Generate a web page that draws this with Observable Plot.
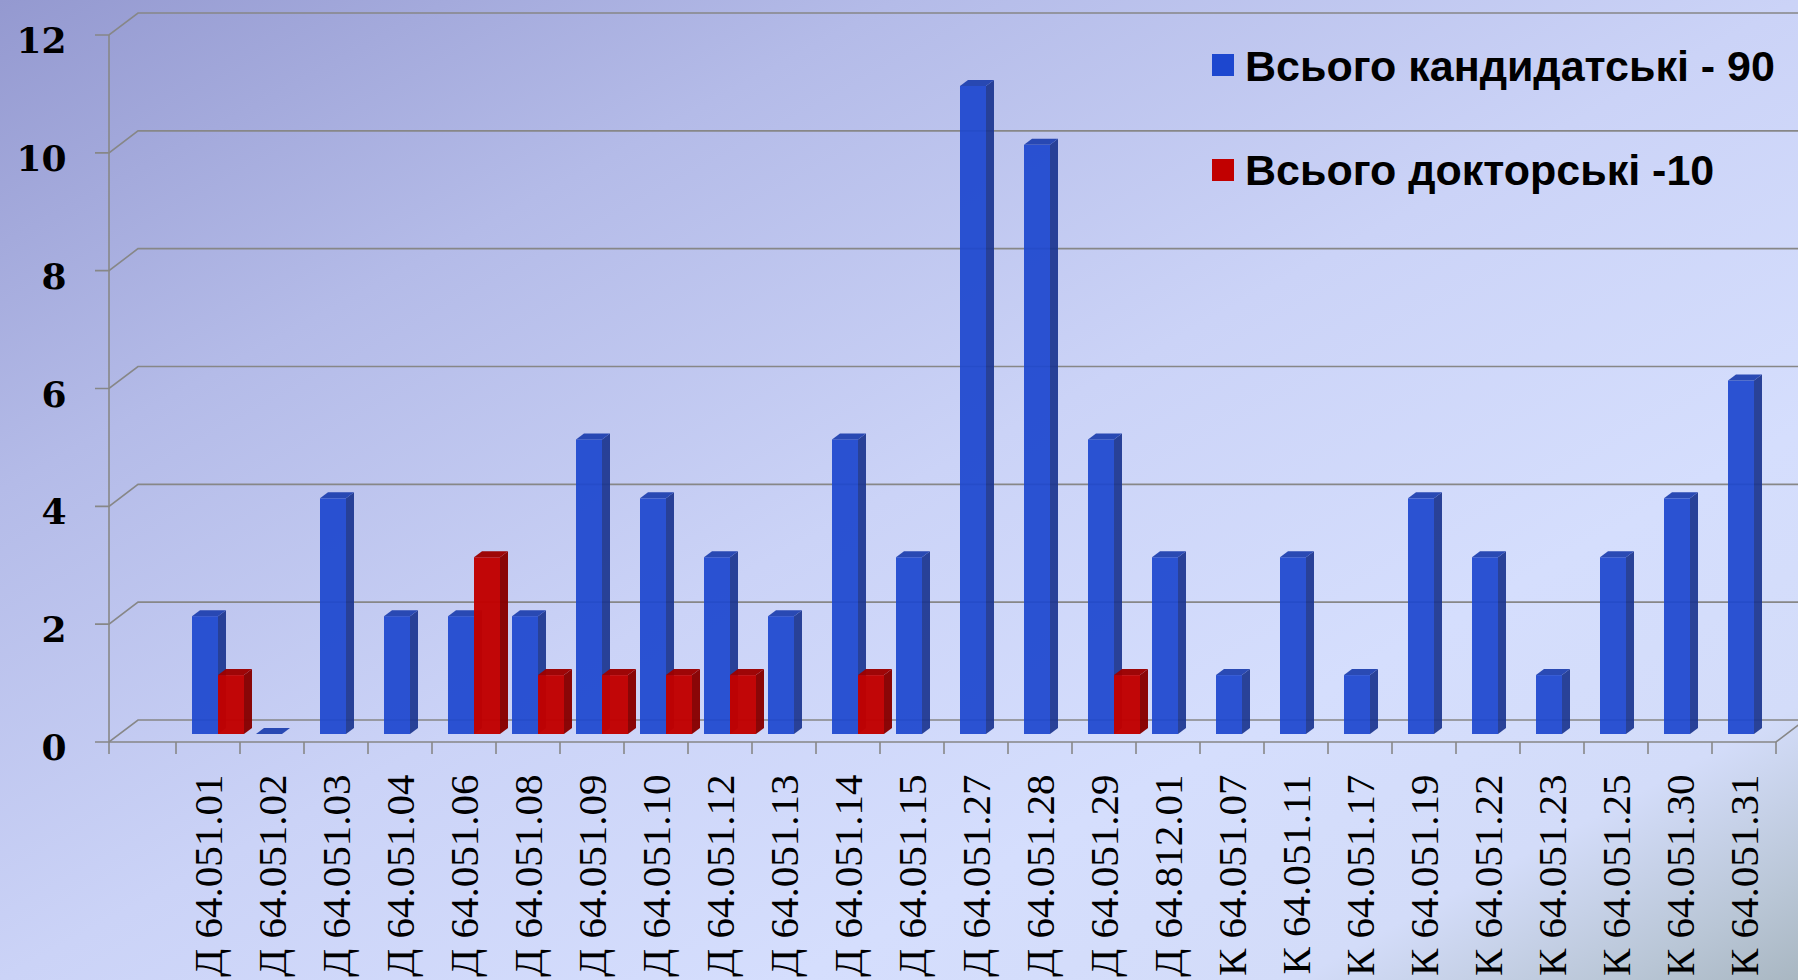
<!DOCTYPE html>
<html><head><meta charset="utf-8">
<script src="https://cdn.jsdelivr.net/npm/d3@7"></script>
<script src="https://cdn.jsdelivr.net/npm/@observablehq/plot@0.6"></script>
<style>
html,body{margin:0;padding:0;}
#wrap{position:relative;width:1798px;height:980px;overflow:hidden;
  background:linear-gradient(to bottom right,#9499d0 0%,#b4bbe8 25%,#cbd3f7 50%,#d5defd 72%,#d3dcf9 86%,#b9c6d6 95%,#a9b7c2 100%);}
.leg{position:absolute;left:1245px;font:bold 43px "Liberation Sans",Arial,sans-serif;line-height:43px;white-space:nowrap;color:#000;}
.sw{position:absolute;left:1212px;width:22px;height:22px;}
</style></head><body><div id="wrap"></div>
<script>
const categories = ["Д 64.051.01","Д 64.051.02","Д 64.051.03","Д 64.051.04","Д 64.051.06","Д 64.051.08","Д 64.051.09","Д 64.051.10","Д 64.051.12","Д 64.051.13","Д 64.051.14","Д 64.051.15","Д 64.051.27","Д 64.051.28","Д 64.051.29","Д 64.812.01","К 64.051.07","К 64.051.11","К 64.051.17","К 64.051.19","К 64.051.22","К 64.051.23","К 64.051.25","К 64.051.30","К 64.051.31"];
const candidates = [2,0,4,2,2,2,5,4,3,2,5,3,11,10,5,3,1,3,1,4,3,1,3,4,6];
const doctors = [1,null,null,null,3,1,1,1,1,null,1,null,null,null,1,null,null,null,null,null,null,null,null,null,null];
const yTicks = [0,2,4,6,8,10,12];
const seriesNames = ["Всього кандидатські - 90","Всього докторські -10"];
const seriesColors = [
  {front:"#1d47cf", side:"#1b3590", top:"#1c3eae", opacity:0.92},
  {front:"#c10000", side:"#880000", top:"#9d0000", opacity:0.97}
];

const W = 1798, H = 980;
const mL = 109, mR = 20, mT = 35, mB = 238;
const wallDX = 29, wallDY = -22;     // depth of the 3D wall/floor
const barDX = 8, barDY = -6;         // depth of each bar
const barLift = -8;                  // bars stand in the middle of the floor
const barW = 26;

const svgNS = "http://www.w3.org/2000/svg";
function el(name, attrs){const e=document.createElementNS(svgNS,name);for(const k in attrs)e.setAttribute(k,attrs[k]);return e;}

function bw(sx){return typeof sx.bandwidth==="function"?sx.bandwidth():(sx(categories[1])-sx(categories[0]));}

// 3D walls, floor and axis lines
function frameMark(index, scales, values, dims){
  const sx = scales.x, sy = scales.y;
  const g = el("g",{fill:"none",stroke:"#878787","stroke-width":1.6});
  const left = dims.marginLeft;
  const b = bw(sx);
  const right = sx(categories[categories.length-1]) + b;
  const y0 = sy(0);
  for(const v of yTicks){
    const y = sy(v);
    g.appendChild(el("path",{d:`M${left-14},${y}H${left}L${left+wallDX},${y+wallDY}H${dims.width+5}`}));
  }
  g.appendChild(el("path",{d:`M${left},${sy(12)}V${y0+12}`}));
  g.appendChild(el("path",{d:`M${left},${y0}H${right}l${wallDX},${wallDY}`}));
  const edges = categories.map(c=>sx(c)).concat([right]);
  for(const x of edges) g.appendChild(el("path",{d:`M${x},${y0}V${y0+12}`}));
  return g;
}

function barsMark(values, col, offset){
  return (index, scales) => {
    const sx = scales.x, sy = scales.y;
    const b = bw(sx);
    const g = el("g",{opacity:col.opacity});
    categories.forEach((c,i)=>{
      const v = values[i];
      if(v==null) return;
      const cx = sx(c) + b/2;
      const xl = cx + offset, xr = xl + barW;
      const yb = sy(0) + barLift, yt = sy(v) + barLift;
      if(v>0){
        g.appendChild(el("rect",{x:xl,y:yt,width:barW,height:yb-yt,fill:col.front}));
        g.appendChild(el("path",{d:`M${xr},${yt}L${xr+barDX},${yt+barDY}V${yb+barDY}L${xr},${yb}Z`,fill:col.side}));
      }
      g.appendChild(el("path",{d:`M${xl},${yt}H${xr}L${xr+barDX},${yt+barDY}H${xl+barDX}Z`,fill:col.top}));
    });
    return g;
  };
}

const chart = Plot.plot({
  width: W, height: H,
  marginLeft: mL, marginRight: mR, marginTop: mT, marginBottom: mB,
  style: {background:"transparent", overflow:"visible"},
  x: {type:"band", domain: categories, range:[174, W-mR], padding:0, axis:null},
  y: {domain:[0,12], axis:null},
  marks: [
    frameMark,
    barsMark(candidates, seriesColors[0], -16),
    barsMark(doctors, seriesColors[1], 10),
    Plot.text(yTicks, {y:d=>d, frameAnchor:"left", dx:-43, dy:6, textAnchor:"end", lineAnchor:"middle",
      text:d=>String(d), fontSize:36, fontWeight:"bold", fontFamily:"DejaVu Serif", fill:"black"}),
    Plot.text(categories, {x:d=>d, frameAnchor:"bottom", dy:32, rotate:-90, textAnchor:"end", lineAnchor:"middle",
      text:d=>d, fontSize:41, fontFamily:"Liberation Serif", fill:"black"})
  ]
});
const wrap = document.getElementById("wrap");
wrap.appendChild(chart);

// legend
const legTops = [44.6, 148.6], swTops = [54, 159];
seriesNames.forEach((name,i)=>{
  const s = document.createElement("div"); s.className="sw"; s.style.top=swTops[i]+"px"; s.style.background=seriesColors[i].front; wrap.appendChild(s);
  const t = document.createElement("div"); t.className="leg"; t.style.top=legTops[i]+"px"; t.textContent=name; wrap.appendChild(t);
});
</script></body></html>
